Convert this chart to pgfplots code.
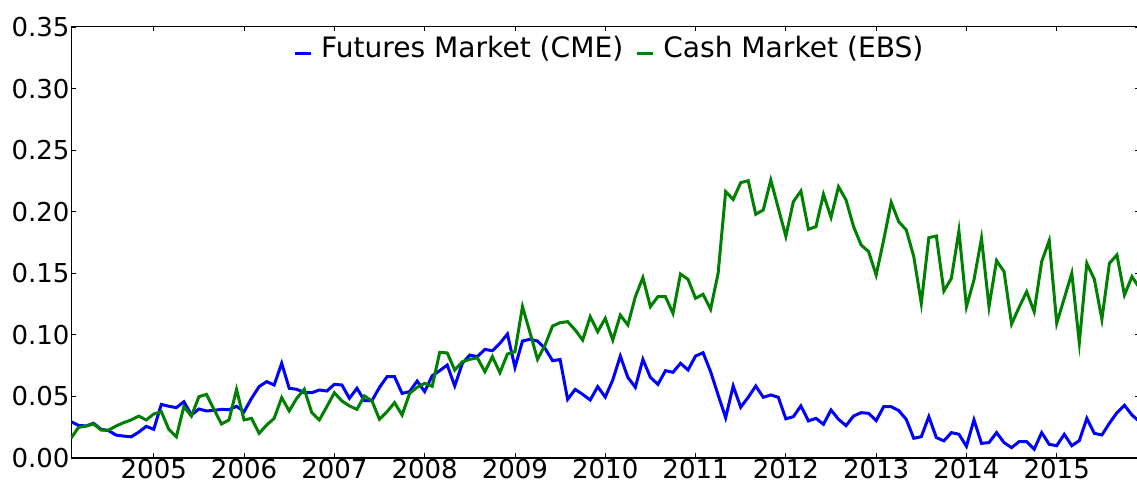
\documentclass[border=0pt]{standalone}
\usepackage{fontspec}
\setmainfont{DejaVu Sans}
\usepackage{pgfplots}
\usepackage{pgfplotstable}
\pgfplotsset{compat=1.18}

% month index i: 0 = Feb 2004, 142 = Dec 2015
\pgfplotstableread{
i cme ebs
0 0.0295 0.016
1 0.0265 0.0249
2 0.026 0.026
3 0.0282 0.0276
4 0.0233 0.0227
5 0.0222 0.0227
6 0.0186 0.026
7 0.0178 0.0287
8 0.0172 0.0309
9 0.021 0.034
10 0.0257 0.0309
11 0.0233 0.0357
12 0.0435 0.0376
13 0.042 0.0233
14 0.0409 0.0172
15 0.0457 0.0417
16 0.035 0.034
17 0.0398 0.0498
18 0.0382 0.0517
19 0.0387 0.0395
20 0.0395 0.0276
21 0.0392 0.0309
22 0.042 0.0557
23 0.0376 0.0309
24 0.0485 0.0322
25 0.058 0.020
26 0.062 0.0268
27 0.0593 0.0322
28 0.0769 0.049
29 0.0566 0.0382
30 0.0558 0.0485
31 0.053 0.0558
32 0.053 0.0368
33 0.0552 0.0309
34 0.0544 0.0417
35 0.0598 0.053
36 0.0593 0.0463
37 0.0485 0.0423
38 0.0566 0.0395
39 0.0466 0.0504
40 0.0466 0.0463
41 0.0574 0.0314
42 0.066 0.0376
43 0.066 0.0449
44 0.0525 0.0349
45 0.0539 0.0525
46 0.0625 0.0574
47 0.0539 0.0606
48 0.0668 0.0582
49 0.0709 0.0858
50 0.0755 0.0853
51 0.0585 0.0714
52 0.0768 0.0782
53 0.0836 0.0801
54 0.0823 0.0814
55 0.0882 0.0701
56 0.0871 0.0823
57 0.0931 0.0693
58 0.1007 0.0844
59 0.0736 0.0863
60 0.095 0.1229
61 0.0964 0.1018
62 0.095 0.0801
63 0.089 0.0917
64 0.079 0.1072
65 0.080 0.1099
66 0.0476 0.1107
67 0.0557 0.104
68 0.0517 0.0958
69 0.0471 0.1148
70 0.0579 0.1026
71 0.0495 0.1134
72 0.0634 0.0958
73 0.0828 0.1161
74 0.0655 0.108
75 0.0574 0.131
76 0.0801 0.1465
77 0.0655 0.1229
78 0.0598 0.131
79 0.0709 0.131
80 0.0696 0.1175
81 0.0769 0.1494
82 0.0715 0.1451
83 0.0828 0.1297
84 0.0855 0.1329
85 0.0701 0.1208
86 0.0512 0.15
87 0.0327 0.2163
88 0.0585 0.21
89 0.0412 0.2236
90 0.0493 0.2252
91 0.0585 0.1979
92 0.0493 0.2014
93 0.0512 0.2257
94 0.0493 0.2028
95 0.0318 0.18
96 0.0336 0.2082
97 0.0423 0.2168
98 0.0301 0.1857
99 0.0322 0.1879
100 0.0274 0.2141
101 0.039 0.1954
102 0.0314 0.2203
103 0.0263 0.2095
104 0.0341 0.1879
105 0.0368 0.173
106 0.0363 0.1676
107 0.0303 0.1486
108 0.0417 0.177
109 0.0417 0.2076
110 0.0385 0.1919
111 0.0314 0.1852
112 0.016 0.1636
113 0.0173 0.1256
114 0.0336 0.1789
115 0.0166 0.1803
116 0.0139 0.1356
117 0.0206 0.1459
118 0.0193 0.1845
119 0.0095 0.1228
120 0.031 0.1446
121 0.0119 0.1784
122 0.0125 0.1229
123 0.0206 0.1603
124 0.0125 0.1513
125 0.0084 0.1088
126 0.0133 0.1224
127 0.0133 0.1351
128 0.0071 0.1188
129 0.0206 0.1595
130 0.0111 0.1765
131 0.01 0.1094
132 0.0192 0.1297
133 0.01 0.15
134 0.0141 0.0937
135 0.0322 0.1581
136 0.02 0.1451
137 0.0187 0.1126
138 0.0282 0.1581
139 0.0368 0.1649
140 0.0428 0.1324
141 0.0349 0.1473
142 0.0295 0.138
}\spreads

\definecolor{mplblue}{RGB}{0,0,255}
\definecolor{mplgreen}{RGB}{0,128,0}

\begin{document}
\begin{tikzpicture}
\begin{axis}[
  name=ax,
  scale only axis,
  width=1068.5pt, height=431pt,
  xmin=0, xmax=142, ymin=0, ymax=0.35,
  xtick={11,23,35,47,59,71,83,95,107,119,131},
  xticklabels={2005,2006,2007,2008,2009,2010,2011,2012,2013,2014,2015},
  ytick={0,0.05,0.10,0.15,0.20,0.25,0.30,0.35},
  yticklabels={0.00,0.05,0.10,0.15,0.20,0.25,0.30,0.35},
  tick align=inside,
  major tick length=4.5pt,
  tick style={black, line width=0.8pt},
  axis line style={black, line width=1pt},
  ticklabel style={font=\fontsize{26}{30}\selectfont},
  yticklabel style={xshift=2pt},
  xticklabel style={yshift=2pt},
  legend columns=2,
  legend style={at={(0.5,1)}, anchor=north, xshift=4pt, yshift=-5pt, draw=none, fill=none,
    font=\fontsize{28.1}{32}\selectfont,
    /tikz/every odd column/.append style={column sep=7pt},
    /tikz/every even column/.append style={column sep=10pt}},
  legend image code/.code={\draw[#1, line width=3pt] (0pt,-6pt) -- (16pt,-6pt);},
]
\addplot[mplblue, line width=3pt] table[x=i, y=cme] {\spreads};
\addlegendentry{Futures Market (CME)}
\addplot[mplgreen, line width=3pt] table[x=i, y=ebs] {\spreads};
\addlegendentry{Cash Market (EBS)}
\end{axis}
\pgfresetboundingbox
\path ([xshift=-71pt,yshift=-25pt]ax.south west) rectangle ([xshift=-2.5pt,yshift=27pt]ax.north east);
\end{tikzpicture}
\end{document}
